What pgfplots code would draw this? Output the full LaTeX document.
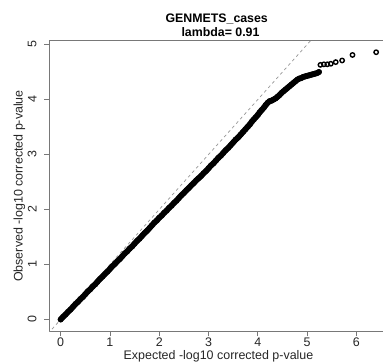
\documentclass[border=0pt]{standalone}
\usepackage{pgfplots}
\pgfplotsset{compat=1.18}
\usepackage{fontspec}
\setmainfont{Liberation Sans}
\definecolor{axisgray}{RGB}{120,120,120}
\definecolor{refgray}{RGB}{150,150,150}
\pgfplotstableread{
x y
0.00 0.00
0.05 0.05
0.10 0.09
0.15 0.14
0.20 0.18
0.25 0.23
0.30 0.28
0.35 0.32
0.40 0.37
0.45 0.41
0.50 0.46
0.55 0.51
0.60 0.55
0.65 0.60
0.70 0.64
0.75 0.69
0.80 0.74
0.85 0.78
0.90 0.83
0.95 0.87
1.00 0.92
1.05 0.97
1.10 1.01
1.15 1.06
1.20 1.10
1.25 1.15
1.30 1.20
1.35 1.24
1.40 1.29
1.45 1.33
1.50 1.38
1.55 1.43
1.60 1.47
1.65 1.52
1.70 1.57
1.75 1.61
1.80 1.66
1.85 1.71
1.90 1.76
1.95 1.80
2.00 1.85
2.05 1.89
2.10 1.94
2.15 1.98
2.20 2.03
2.25 2.07
2.30 2.12
2.35 2.16
2.40 2.21
2.45 2.26
2.50 2.30
2.55 2.35
2.60 2.39
2.65 2.44
2.70 2.48
2.75 2.53
2.80 2.57
2.85 2.61
2.90 2.66
2.95 2.70
3.00 2.75
3.05 2.80
3.10 2.84
3.15 2.89
3.20 2.94
3.25 2.98
3.30 3.03
3.35 3.08
3.40 3.12
3.45 3.17
3.50 3.22
3.55 3.27
3.60 3.31
3.65 3.36
3.70 3.41
3.75 3.46
3.80 3.51
3.84 3.55
3.88 3.60
3.92 3.64
3.96 3.68
4.00 3.72
4.04 3.77
4.08 3.81
4.12 3.85
4.16 3.90
4.20 3.94
4.24 3.97
4.28 3.98
4.32 4.00
4.36 4.02
4.40 4.05
4.44 4.08
4.48 4.12
4.52 4.15
4.56 4.18
4.60 4.21
4.64 4.24
4.68 4.27
4.72 4.30
4.76 4.33
4.80 4.36
4.84 4.38
4.88 4.39
4.92 4.41
4.96 4.42
5.00 4.43
5.04 4.44
5.08 4.45
5.12 4.46
5.16 4.47
5.20 4.48
5.24 4.50
}\densedata
\pgfplotstableread{
x y
5.27 4.63
5.34 4.64
5.41 4.64
5.48 4.65
5.58 4.68
5.71 4.71
5.92 4.81
6.40 4.86
}\sparsedata
\begin{document}
\begin{tikzpicture}
\useasboundingbox (0,0) rectangle (383bp,362bp);
\begin{axis}[
  at={(49.3bp,30.5bp)}, anchor=south west,
  width=333.7bp, height=291bp, scale only axis,
  xmin=-0.23, xmax=6.539, ymin=-0.218, ymax=5.073,
  axis x line*=bottom, axis y line*=left,
  axis line style={-, draw=axisgray, line width=0.8bp},
  xtick={0,1,2,3,4,5,6}, ytick={0,1,2,3,4,5},
  tick align=outside, major tick length=5bp,
  tick style={draw=axisgray, line width=0.8bp},
  /pgf/number format/assume math mode=true,
  ticklabel style={font=\fontsize{12.5}{14}\selectfont, text=black!85, inner sep=0pt},
  xticklabel shift=0.8bp,
  yticklabel style={rotate=90, anchor=south},
  yticklabel shift=7.6bp,
  clip=true,
]
\draw[axisgray, line width=0.8bp] (rel axis cs:0,1) -- (rel axis cs:1,1);
\addplot[refgray, dash pattern=on 3bp off 3bp, line width=0.7bp] coordinates {(-0.5,-0.5) (5.5,5.5)};
\addplot[black, line width=5.8bp, line cap=round, line join=round] table[x=x,y=y] {\densedata};
\addplot[only marks, mark=o, mark size=2.2bp, mark options={line width=1.4bp, draw=black}] table[x=x,y=y] {\densedata};
\addplot[only marks, mark=o, mark size=2.2bp, mark options={line width=1.4bp, draw=black}] table[x=x,y=y] {\sparsedata};
\end{axis}
\node[anchor=base, inner sep=0pt, font=\bfseries\fontsize{12.4}{14}\selectfont] at (216.7bp,339.3bp) {GENMETS\_cases};
\node[anchor=base, inner sep=0pt, font=\bfseries\fontsize{12.4}{14}\selectfont] at (220.5bp,325.3bp) {lambda= 0.91};
\node[anchor=base, inner sep=0pt, font=\fontsize{12.5}{14}\selectfont, text=black!85] at (218.5bp,2.9bp) {Expected -log10 corrected p-value};
\node[anchor=base, inner sep=0pt, rotate=90, font=\fontsize{12.5}{14}\selectfont, text=black!85] at (22.7bp,176bp) {Observed -log10 corrected p-value};
\end{tikzpicture}
\end{document}
